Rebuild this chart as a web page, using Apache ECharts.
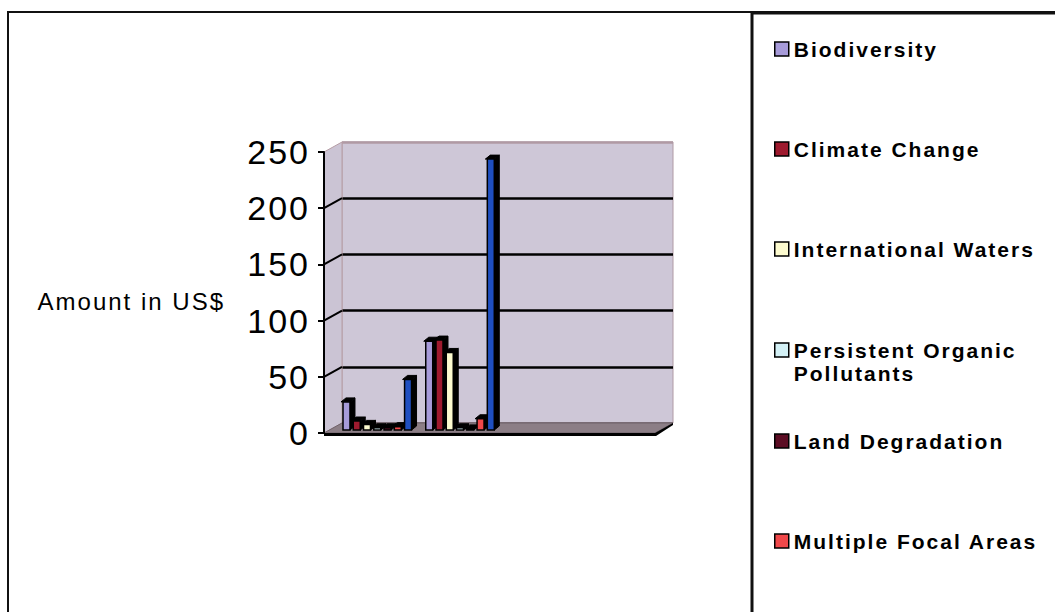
<!DOCTYPE html>
<html>
<head>
<meta charset="utf-8">
<script src="https://cdn.jsdelivr.net/npm/echarts@6/dist/echarts.min.js"></script>
<style>
  html, body { margin: 0; padding: 0; background: #ffffff; }
  #chart { width: 1055px; height: 612px; }
  #chart text { letter-spacing: 2px; }
</style>
</head>
<body>
<div id="chart"></div>
<script>
// ---- data ----
const categories = ['Period 1', 'Period 2', 'Period 3', 'Period 4'];
const biodiversity = [25, 79, null, null];
const climateChange = [8, 80, null, null];
const internationalWaters = [5, 69, null, null];
const persistentOrganicPollutants = [2, 2, null, null];
const landDegradation = [2, 1, null, null];
const multipleFocalAreas = [3, 10, null, null];
const total = [45, 241, null, null];
const yTicks = [0, 50, 100, 150, 200, 250];
const yAxisTitle = 'Amount in US$';

const seriesDefs = [
  { name: 'Biodiversity', values: biodiversity, color: '#a79bd9' },
  { name: 'Climate Change', values: climateChange, color: '#9e1a2e' },
  { name: 'International Waters', values: internationalWaters, color: '#fdfbcf' },
  { name: 'Persistent Organic Pollutants', values: persistentOrganicPollutants, color: '#d4f1f6' },
  { name: 'Land Degradation', values: landDegradation, color: '#5c0d24' },
  { name: 'Multiple Focal Areas', values: multipleFocalAreas, color: '#f0484a' },
  { name: 'Total', values: total, color: '#1f4fc0' }
];

// ---- 3D look parameters ----
const FONT = 'Liberation Sans';
const WALL_DX = 18;   // horizontal depth of the box
const WALL_DY = 10;   // vertical depth of the box
const BAR_DROP = 7;   // bars stand toward the front of the floor
const CAP_DX = 5, CAP_DY = 4;

const yMin = yTicks[0];
const yMax = yTicks[yTicks.length - 1];
const yStep = yTicks[1] - yTicks[0];

// walls, floor and the slanted tick lines of the side wall
function renderFrame(params, api) {
  const cs = params.coordSys;
  const L = cs.x, R = cs.x + cs.width;
  const B = api.coord([0, yMin])[1];
  const T = api.coord([0, yMax])[1];
  const kids = [];
  kids.push({
    type: 'polygon',
    shape: { points: [[L - WALL_DX, B + WALL_DY], [L, B], [L, T], [L - WALL_DX, T + WALL_DY]] },
    style: { fill: '#cbc4d4', stroke: '#b79ea6', lineWidth: 1 }
  });
  yTicks.slice(1, -1).forEach(function (v) {
    const y = api.coord([0, v])[1];
    kids.push({
      type: 'line',
      shape: { x1: L - WALL_DX, y1: y + WALL_DY, x2: L, y2: y },
      style: { stroke: '#000', lineWidth: 2 }
    });
  });
  kids.push({
    type: 'polygon',
    shape: { points: [[L - WALL_DX, B + WALL_DY], [L, B], [R, B], [R - WALL_DX, B + WALL_DY]] },
    style: { fill: '#8c7e86', stroke: '#6f626a', lineWidth: 1 }
  });
  kids.push({
    type: 'polygon',
    shape: { points: [
      [L - WALL_DX, B + WALL_DY], [R - WALL_DX, B + WALL_DY], [R, B], [R, B + 2],
      [R - WALL_DX + 1, B + WALL_DY + 3], [L - WALL_DX, B + WALL_DY + 3]
    ] },
    style: { fill: '#000' }
  });
  return { type: 'group', children: kids };
}

// one shaded column with a dark top and side
function makeBarRenderer(slot, color) {
  return function (params, api) {
    const v = api.value(1);
    if (v == null || isNaN(v)) return null;
    const c = api.value(0);
    const base = api.coord([c, 0]);
    const tip = api.coord([c, v]);
    const band = api.size([1, 0])[0];
    const step = band * 0.124;
    const faceW = step * 0.68;
    const x = base[0] - band / 2 + 1 + slot * step;
    const yb = base[1] + BAR_DROP;
    const yt = tip[1] + BAR_DROP;
    return {
      type: 'group',
      children: [
        { type: 'polygon',
          shape: { points: [[x + faceW, yt], [x + faceW + CAP_DX, yt - CAP_DY], [x + faceW + CAP_DX, yb - CAP_DY], [x + faceW, yb]] },
          style: { fill: '#000', stroke: '#000', lineWidth: 1 } },
        { type: 'polygon',
          shape: { points: [[x - 2, yt], [x + CAP_DX - 2, yt - CAP_DY], [x + faceW + CAP_DX, yt - CAP_DY], [x + faceW, yt]] },
          style: { fill: '#000', stroke: '#000', lineWidth: 1 } },
        { type: 'rect',
          shape: { x: x, y: yt, width: faceW, height: Math.max(yb - yt, 0) },
          style: { fill: color, stroke: '#000', lineWidth: 1.5 } }
      ]
    };
  };
}

const series = [{
  type: 'custom',
  name: '__frame',
  xAxisIndex: 0, yAxisIndex: 0,
  silent: true,
  data: [[0, 0]],
  renderItem: renderFrame
}];
seriesDefs.forEach(function (d, i) {
  series.push({
    type: 'custom',
    name: d.name,
    xAxisIndex: 0, yAxisIndex: 0,
    itemStyle: { color: d.color },
    encode: { x: 0, y: 1 },
    data: d.values.map(function (v, k) { return [k, v]; }),
    renderItem: makeBarRenderer(i, d.color)
  });
});

// legend entries, one block per name
const legendCenters = [49, 149, 249, 350, 441, 541];
const legends = seriesDefs.slice(0, 6).map(function (d, i) {
  const twoLine = d.name === 'Persistent Organic Pollutants';
  return {
    data: [d.name],
    orient: 'vertical',
    left: 774,
    top: twoLine ? legendCenters[i] - 34.5 : legendCenters[i] - 12,
    padding: 0,
    itemWidth: 14,
    itemHeight: 14,
    icon: 'rect',
    selectedMode: false,
    itemStyle: { borderColor: '#000', borderWidth: 1.5 },
    formatter: twoLine ? '\nPersistent Organic\nPollutants' : '{name}',
    textStyle: {
      fontFamily: FONT, fontSize: 21, fontWeight: 'bold', color: '#000',
      lineHeight: twoLine ? 23 : 24
    }
  };
});

const chart = echarts.init(document.getElementById('chart'), null, { renderer: 'svg' });
chart.setOption({
  animation: false,
  backgroundColor: '#ffffff',
  legend: legends,
  grid: [
    { left: 342, top: 142, width: 331, height: 281, show: true,
      backgroundColor: '#cec7d7', borderColor: '#b09aa4', borderWidth: 1 },
    { left: 324, top: 152, width: 331, height: 281 }
  ],
  xAxis: [
    { type: 'category', gridIndex: 0, data: categories, show: false },
    { type: 'category', gridIndex: 1, data: categories, show: false }
  ],
  yAxis: [
    { type: 'value', gridIndex: 0, min: yMin, max: yMax, interval: yStep,
      axisLine: { show: false }, axisTick: { show: false }, axisLabel: { show: false },
      splitLine: { show: true, lineStyle: {
        color: ['#6f626a', '#000000', '#000000', '#000000', '#000000', '#b09aa4'], width: 2.5 } } },
    { type: 'value', gridIndex: 1, min: yMin, max: yMax, interval: yStep, z: 10,
      name: yAxisTitle, nameLocation: 'middle', nameRotate: 0, nameGap: 99,
      nameTextStyle: { fontFamily: FONT, fontSize: 24, color: '#000', align: 'right',
        verticalAlign: 'top', lineHeight: 18 },
      axisLine: { show: true, lineStyle: { color: '#000', width: 2 } },
      axisTick: { show: true, length: 6, lineStyle: { color: '#000', width: 2 } },
      axisLabel: { fontFamily: FONT, fontSize: 34, color: '#000', margin: 14,
        formatter: function (v) { return String(v); } },
      splitLine: { show: false } }
  ],
  graphic: [
    { type: 'rect', silent: true, z: 100,
      shape: { x: 8, y: 12, width: 1100, height: 700 },
      style: { fill: 'none', stroke: '#111', lineWidth: 2 } },
    { type: 'rect', silent: true, z: 100,
      shape: { x: 752, y: 13, width: 400, height: 700 },
      style: { fill: 'none', stroke: '#111', lineWidth: 3 } }
  ],
  series: series
});
</script>
</body>
</html>
